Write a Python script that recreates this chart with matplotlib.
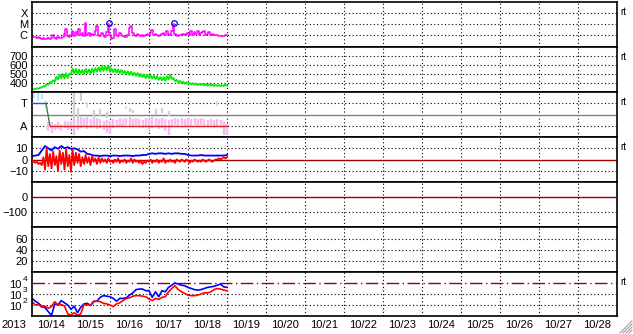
import numpy as np
import matplotlib
matplotlib.use("Agg")
import matplotlib.pyplot as plt
from matplotlib.lines import Line2D

plt.rcParams['font.family'] = ['Liberation Sans', 'DejaVu Sans']

# time axis in hours from 2013-10-14 00:00
day_labels = ['10/14', '10/15', '10/16', '10/17', '10/18', '10/19', '10/20', '10/21',
              '10/22', '10/23', '10/24', '10/25', '10/26', '10/27', '10/28']

# GOES X-ray flux, log10 W/m2, hourly
xray_log = [-6.1, -6.2, -6.2, -6.25, -6.2, -6.3, -6.35, -6.3, -6.4, -6.35, -6.3, -6.4, -6.3, -6.0,
            -6.3, -6.35, -6.2, -6.3, -6.25, -6.2, -5.9, -5.45, -6.1, -6.2, -6.0, -5.6, -6.1, -5.7,
            -6.0, -5.5, -6.0, -5.8, -6.1, -4.95, -6.0, -5.8, -6.1, -5.9, -6.0, -5.6, -5.2, -6.0,
            -6.1, -5.8, -6.0, -6.2, -5.7, -5.0, -6.0, -6.4, -6.3, -5.5, -6.0, -6.1, -5.8, -6.0,
            -6.1, -6.2, -6.2, -6.0, -5.4, -5.2, -5.8, -6.0, -6.1, -5.9, -6.0, -6.1, -6.0, -6.1,
            -6.0, -5.9, -6.0, -5.8, -5.55, -6.0, -5.9, -6.0, -6.1, -6.0, -5.9, -5.8, -6.0, -5.6,
            -5.9, -6.0, -5.6, -5.0, -5.9, -6.0, -6.1, -6.0, -6.0, -5.9, -6.0, -5.9, -5.8, -6.0,
            -5.6, -6.0, -5.7, -5.9, -5.6, -6.0, -5.8, -5.7, -5.6, -6.0, -5.9, -5.7, -6.0, -5.9,
            -6.0, -6.0, -6.05, -6.1, -6.1, -6.1, -6.1, -6.05, -6.0]
flare_hours = [47.3, 87.3]
flare_log = [-4.9, -4.93]

# solar wind speed, km/s, hourly
speed = [325, 332, 330, 342, 336, 350, 348, 365, 360, 390,
         380, 410, 400, 430, 415, 470, 440, 490, 455, 500,
         450, 510, 455, 505, 500, 560, 505, 555, 500, 550,
         505, 545, 500, 555, 510, 550, 505, 560, 515, 565,
         525, 575, 530, 590, 535, 585, 540, 595, 525, 560,
         520, 555, 515, 550, 510, 545, 505, 535, 495, 530,
         490, 525, 485, 515, 480, 510, 470, 500, 465, 495,
         455, 490, 455, 485, 450, 480, 445, 475, 435, 465,
         430, 465, 425, 475, 440, 490, 445, 455, 420, 435,
         405, 425, 398, 415, 392, 408, 388, 402, 384, 398,
         380, 395, 376, 392, 378, 390, 372, 388, 370, 384,
         372, 382, 368, 380, 366, 378, 365, 376, 368, 380, 370]

# IMF sector: hours and lo/hi of the scatter columns (T = 0.5, A = -0.5)
pink_hours = list(range(10, 121, 2))
pink_hi = [-0.35, -0.35, -0.4, -0.35, -0.4, -0.3, -0.35, -0.3, -0.4, -0.25, -0.1, -0.15, -0.1,
           -0.2, -0.1, -0.15, -0.2, -0.3, -0.25, -0.3, -0.2, -0.25, -0.15, -0.2, -0.15, -0.1,
           -0.2, -0.15, -0.2, -0.25, -0.15, -0.2, -0.1, -0.15, -0.2, -0.15, -0.2, -0.25, -0.2,
           -0.15, -0.2, -0.15, -0.2, -0.15, -0.2, -0.15, -0.2, -0.15, -0.2, -0.25, -0.2, -0.25,
           -0.2, -0.25, -0.3, -0.4]
pink_lo = [-0.75, -0.8, -0.7, -0.65, -0.75, -0.6, -0.7, -0.65, -0.75, -0.7, -0.6, -0.55, -0.65,
           -0.6, -0.55, -0.65, -0.6, -0.7, -0.8, -0.85, -0.6, -0.55, -0.5, -0.55, -0.45, -0.5,
           -0.5, -0.45, -0.55, -0.6, -0.5, -0.7, -0.6, -0.55, -0.65, -0.6, -0.75, -0.9, -0.55,
           -0.45, -0.5, -0.45, -0.5, -0.45, -0.5, -0.45, -0.5, -0.45, -0.55, -0.5, -0.45, -0.55,
           -0.5, -0.55, -0.6, -0.9]
gray_hours = [26, 28, 30, 38, 42, 46, 60, 62, 76, 80, 84, 118, 120]
gray_lo = [-0.9, -0.5, 0.6, -0.1, -0.05, -0.15, 0.1, 0.05, 0.0, 0.05, -0.05, -0.9, -0.9]
gray_hi = [0.95, 0.3, 0.95, 0.2, 0.25, 0.1, 0.3, 0.2, 0.25, 0.3, 0.15, -0.4, -0.5]
cyan_hours = [1, 3.5, 6, 8.5, 34, 58, 114]
cyan_lo = [0.75, 0.6, 0.7, 0.3, 0.3, 0.25, 0.4]
cyan_hi = [1.0, 0.95, 0.9, 0.6, 0.55, 0.4, 0.6]
sector_t_hours = [0, 8.6]
sector_a_hours = [11, 120]

# IMF Bt (2-hourly) and Bz (hourly), nT
bt = [3, 3.5, 4, 8, 12, 10, 8, 11, 9.5, 12, 10, 11, 9.5, 10, 9, 7, 7.5, 5, 4.5, 3.5, 3.5, 3,
      3.5, 3.5, 3, 3.5, 3.5, 3, 3.5, 3.5, 3.5, 3, 3.5, 3.5, 4, 4, 5, 5.5, 5, 5.5, 5.5, 5, 5.5,
      5, 5.5, 5.5, 5, 5, 4, 3.5, 3.5, 3.5, 4, 3.5, 3.5, 3.5, 3.5, 3.5, 3.5, 3.5, 4]
bz = [-1, -2, -3, -2, -4, -3, -5, 2, -9, 10, -6, 5, -8, 7, -5, 3, -10, 8, -4, 6, -9, 9, -6, 4,
      -11, 9, -5, 6, -3, 5, -6, 2, -4, 4, -3, 2, -5, 3, -2, 1, -4, 2, -3, 1, -2, 0, -3, 1, -2,
      -1, -3, 0, -2, 1, -3, -1, -2, 0, -3, -1, -2, 1, -3, 0, -2, -1, -3, -1, -4, -2, -3, -1, -2,
      0, -3, -1, -2, 0, -3, -1, -2, 1, -3, -1, -2, 0, -2, -1, -3, 0, -1, -2, 0, -1, -2, 0, -1,
      -3, -1, -2, 0, -1, -2, -1, -2, 0, -1, -2, -1, 0, -1, -2, -1, 0, 0, 1, 0, 1, 2, 1, 2]

# electron flux, log10, 2-hourly
flux_blue = [2.6, 2.35, 2.15, 1.9, 1.75, 1.4, 1.05, 2.1, 2.0, 2.4, 2.2, 2.0, 1.6, 1.9, 1.3, 1.8,
             2.1, 2.15, 1.95, 2.3, 2.35, 2.7, 2.85, 2.8, 2.75, 2.6, 2.35, 2.6, 2.6, 2.65, 2.9,
             3.1, 3.4, 3.45, 3.45, 3.3, 3.3, 2.7, 3.2, 2.75, 3.3, 3.2, 3.6, 3.8, 4.0, 3.9, 3.8,
             3.75, 3.6, 3.5, 3.4, 3.35, 3.4, 3.5, 3.6, 3.65, 3.7, 3.8, 3.9, 3.65, 3.6]
flux_red = [2.3, 2.0, 2.05, 1.8, 1.9, 1.7, 1.85, 2.3, 2.0, 2.05, 1.9, 1.2, 1.1, 1.3, 1.05, 1.2,
            2.05, 2.0, 2.0, 2.35, 2.35, 2.3, 2.15, 2.1, 2.0, 1.85, 2.1, 2.2, 2.4, 2.6, 2.65, 2.8,
            2.85, 2.85, 2.8, 2.75, 2.55, 2.4, 2.6, 2.5, 2.7, 2.75, 3.2, 3.5, 3.75, 3.4, 3.2,
            3.05, 2.9, 2.85, 2.85, 2.9, 3.0, 3.1, 3.1, 3.2, 3.4, 3.5, 3.45, 3.35, 3.3]
flux_exps = [4, 3, 2]

W, H = 633, 334
fig = plt.figure(figsize=(W / 100, H / 100), dpi=100)
edges = [2, 47, 92, 137, 182, 227, 272, 316]
x0, x1 = 32, 617
dotted = (0, (1, 2.2))
dred = '#a00000'
fs = 8

axes = []
for i in range(7):
    top, bot = edges[i], edges[i + 1]
    ax = fig.add_axes([x0 / W, 1 - bot / H, (x1 - x0) / W, (bot - top) / H])
    ax.set_xlim(0, 360)
    ax.set_xticks([])
    for s in ax.spines.values():
        s.set_linewidth(1.2)
    for d in range(24, 360, 24):
        ax.axvline(d, color='k', ls=dotted, lw=0.8, zorder=0)
    ax.tick_params(axis='y', length=0, pad=3, labelsize=fs)
    axes.append(ax)


def hgrid(ax, vals):
    for v in vals:
        ax.axhline(v, color='k', ls=dotted, lw=0.8, zorder=0)


def rt(ax):
    ax.text(1.005, 0.77, 'rt', transform=ax.transAxes, fontsize=7, va='center', ha='left')


hours1 = np.arange(len(xray_log))
hours2 = np.arange(len(bt)) * 2

# panel 1: X-ray
ax = axes[0]
ax.set_yscale('log')
ax.set_ylim(10 ** -7.1, 1e-3)
ax.minorticks_off()
ax.set_yticks([1e-4, 1e-5, 1e-6])
ax.set_yticklabels(['X', 'M', 'C'])
hgrid(ax, [1e-4, 1e-5, 1e-6])
ax.plot(hours1, 10 ** np.array(xray_log), color='#ff00ff', lw=1.1, drawstyle='steps-mid')
ax.plot(flare_hours, 10 ** np.array(flare_log), 'o', mfc='none', mec='#0000ff', ms=4, mew=0.9)
rt(ax)

# panel 2: speed
ax = axes[1]
ax.set_ylim(300, 800)
ax.set_yticks([700, 600, 500, 400])
hgrid(ax, [700, 600, 500, 400])
ax.plot(np.arange(len(speed)), speed, color='#00ee00', lw=1.3)
rt(ax)

# panel 3: sector
ax = axes[2]
ax.set_ylim(-1, 1)
ax.set_yticks([0.5, -0.5])
ax.set_yticklabels(['T', 'A'])
hgrid(ax, [0.5, -0.5])
ax.axhline(0, color='#808080', lw=1.0, zorder=1)
ax.vlines(gray_hours, gray_lo, gray_hi, color='#d0d0d0', lw=1.6, zorder=1)
ax.vlines(cyan_hours, cyan_lo, cyan_hi, color='#b0e4f4', lw=1.2, zorder=1)
ax.vlines(pink_hours, pink_lo, pink_hi, color='#f6bcf2', lw=1.7, zorder=2)
ax.plot(sector_t_hours, [0.5, 0.5], color='#3050e0', lw=1.0, zorder=3)
ax.plot([sector_t_hours[1], sector_a_hours[0]], [0.5, -0.5], color='#408040', lw=1.0, zorder=3)
ax.plot(sector_a_hours, [-0.5, -0.5], color='#e02020', lw=1.0, zorder=3)
rt(ax)

# panel 4: IMF
ax = axes[3]
ax.set_ylim(-20, 20)
ax.set_yticks([10, 0, -10])
hgrid(ax, [10, -10])
ax.axhline(0, color=dred, lw=1.0, zorder=1)
ax.plot(hours2, bt, color='#0000ff', lw=1.3, zorder=2)
ax.plot(hours1, bz, color='#ff0000', lw=1.3, zorder=3)
rt(ax)

# panel 5: Dst
ax = axes[4]
ax.set_ylim(-200, 100)
ax.set_yticks([0, -100])
hgrid(ax, [-100])
ax.axhline(0, color=dred, lw=1.0)

# panel 6: Kp-like
ax = axes[5]
ax.set_ylim(0, 82)
ax.set_yticks([60, 40, 20])
hgrid(ax, [60, 40, 20])

# panel 7: electron flux
ax = axes[6]
ax.set_yscale('log')
ax.set_ylim(10, 1e5)
ax.minorticks_off()
ax.set_yticks([10.0 ** e for e in flux_exps])
ax.set_yticklabels([])
for e in flux_exps:
    ax.annotate('10', xy=(0, 10.0 ** e), xycoords=('axes fraction', 'data'),
                xytext=(-7.5, -1.5), textcoords='offset points',
                ha='right', va='center', fontsize=fs)
    ax.annotate(str(e), xy=(0, 10.0 ** e), xycoords=('axes fraction', 'data'),
                xytext=(-6.8, 2.6), textcoords='offset points',
                ha='left', va='center', fontsize=6)
hgrid(ax, [1e3, 1e2])
ax.axhline(1e4, color=dred, lw=1.0, ls=(0, (9, 2.5, 1, 2.5)))
ax.plot(hours2, 10 ** np.array(flux_blue), color='#0000ff', lw=1.2)
ax.plot(hours2, 10 ** np.array(flux_red), color='#ff0000', lw=1.2)
ax.set_xticks(np.arange(12, 360, 24))
ax.set_xticklabels(day_labels)
ax.tick_params(axis='x', length=0, pad=3, labelsize=fs)
rt(ax)

fig.text(14 / W, 1 - 325 / H, '2013', ha='center', va='center', fontsize=fs)

# window resize grip
for k in range(4):
    off = 3 * k
    fig.add_artist(Line2D([(620 + off) / W, 632 / W], [1 - 333 / H, 1 - (321 + off) / H],
                          transform=fig.transFigure, color='#a0a0a0', lw=0.8))

fig.savefig('out.png', dpi=100, facecolor='white')
